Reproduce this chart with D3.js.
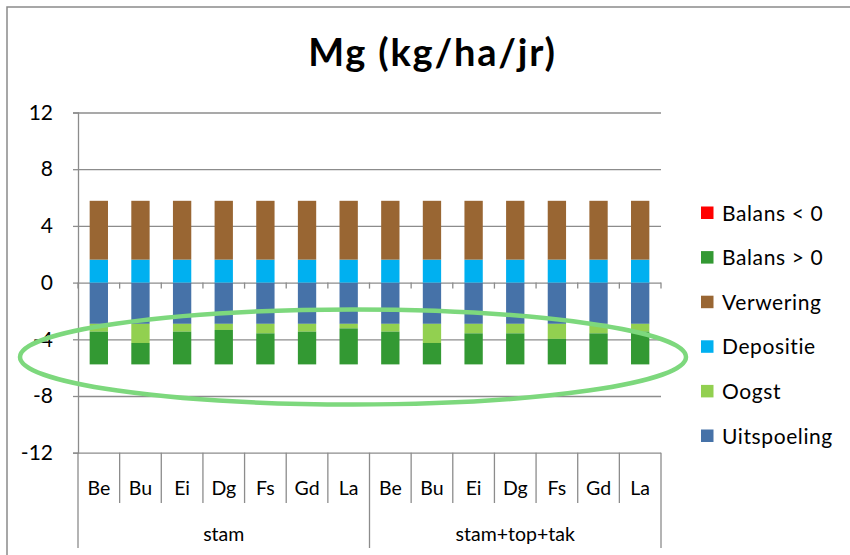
<!DOCTYPE html>
<html><head><meta charset="utf-8">
<script src="https://cdn.jsdelivr.net/npm/d3@7"></script>
<style>
html,body{margin:0;padding:0;background:#fff;}
text{font-family:Lato,"Open Sans",sans-serif;fill:#000;}
</style></head>
<body><svg id="c" width="850" height="555"></svg>
<script>
// ---- data ----
const species = ["Be","Bu","Ei","Dg","Fs","Gd","La"];
const groups = ["stam","stam+top+tak"];
const yTicks = [-12,-8,-4,0,4,8,12];
const seriesNames = ["Uitspoeling","Oogst","Depositie","Verwering","Balans > 0","Balans < 0"];
const seriesColors = ["#4672a8","#92d050","#00b0f0","#996633","#339933","#ff0000"];
const uitspoeling = [-2.91,-2.91,-2.91,-2.91,-2.91,-2.91,-2.91, -2.91,-2.91,-2.91,-2.91,-2.91,-2.91,-2.91];
const oogst       = [-0.55,-1.35,-0.55,-0.43,-0.67,-0.55,-0.32, -0.55,-1.35,-0.67,-0.67,-1.06,-0.67,-0.55];
const depositie   = [1.62,1.62,1.62,1.62,1.62,1.62,1.62, 1.62,1.62,1.62,1.62,1.62,1.62,1.62];
const verwering   = [4.15,4.15,4.15,4.15,4.15,4.15,4.15, 4.15,4.15,4.15,4.15,4.15,4.15,4.15];
const balansPos   = [-2.31,-1.51,-2.31,-2.43,-2.19,-2.31,-2.54, -2.31,-1.51,-2.19,-2.19,-1.80,-2.19,-2.31];
const balansNeg   = [0,0,0,0,0,0,0, 0,0,0,0,0,0,0];
const title = "Mg (kg/ha/jr)";

// ---- build table ----
const seriesData = [uitspoeling, oogst, depositie, verwering, balansPos, balansNeg];
const cats = [];
groups.forEach(g => species.forEach(s => cats.push({group:g, sp:s})));
const rows = cats.map((c,i) => {
  const r = {id:i, group:c.group, sp:c.sp};
  seriesNames.forEach((n,k) => r[n] = seriesData[k][i]);
  return r;
});
const stacked = d3.stack().keys(seriesNames).offset(d3.stackOffsetDiverging)(rows);

const svg = d3.select("#c");
const L = 78, R = 661, T = 112.5, B = 452.7;
const x = d3.scaleBand().domain(rows.map(r=>r.id)).range([L,R]).padding(0);
const y = d3.scaleLinear().domain([-12,12]).range([B,T]);
const grid = "#8c8c8c";

// chart border
svg.append("rect").attr("x",7).attr("y",7).attr("width",900).attr("height",600)
  .attr("fill","none").attr("stroke","#8a8a8a").attr("stroke-width",1.5);

// gridlines + y axis
const yAxis = d3.axisLeft(y).tickValues(yTicks).tickSize(5).tickPadding(20).tickFormat(d=>String(d));
const gy = svg.append("g").attr("transform",`translate(${L},0)`).call(yAxis);
gy.select(".domain").attr("stroke",grid).attr("stroke-width",1.3);
gy.selectAll(".tick line").attr("stroke",grid).attr("stroke-width",1.3);
gy.selectAll(".tick text").attr("font-size",21).attr("font-family","Lato").attr("fill","#000");
gy.selectAll(".tick").append("line").attr("x1",0).attr("x2",R-L).attr("stroke",grid).attr("stroke-width",1.3);

// bars
const bw = x.bandwidth()*0.44;
svg.append("g").selectAll("g").data(stacked).join("g")
  .attr("fill",(d,i)=>seriesColors[i])
  .selectAll("rect").data(d=>d).join("rect")
  .attr("x",d=>x(d.data.id)+(x.bandwidth()-bw)/2)
  .attr("width",bw)
  .attr("y",d=>y(Math.max(d[0],d[1])))
  .attr("height",d=>Math.abs(y(d[0])-y(d[1])));

// zero axis ticks (category boundaries)
const bounds = d3.range(rows.length+1).map(k => k<rows.length ? x(k) : R);
svg.append("g").selectAll("line").data(bounds).join("line")
  .attr("x1",d=>d).attr("x2",d=>d).attr("y1",y(0)).attr("y2",y(0)+6)
  .attr("stroke",grid).attr("stroke-width",1.3);

// bottom multi-level category labels
svg.append("g").selectAll("line").data(bounds).join("line")
  .attr("x1",d=>d).attr("x2",d=>d).attr("y1",B)
  .attr("y2",(d,k)=> (k%species.length===0) ? 548 : 503)
  .attr("stroke",grid).attr("stroke-width",1.3);
svg.append("g").selectAll("text").data(rows).join("text")
  .attr("x",d=>x(d.id)+x.bandwidth()/2).attr("y",495)
  .attr("text-anchor","middle").attr("font-size",19.5).text(d=>d.sp);
svg.append("g").selectAll("text").data(groups).join("text")
  .attr("x",(g,i)=> (x(i*species.length) + (i===groups.length-1 ? R : x((i+1)*species.length)))/2)
  .attr("y",541).attr("text-anchor","middle").attr("font-size",19.5).text(g=>g);

// title
svg.append("text").attr("x",432.5).attr("y",66).attr("text-anchor","middle")
  .attr("font-size",38).attr("font-weight","bold").attr("letter-spacing",1.8).text(title);

// legend (reversed order)
const legendOrder = seriesNames.map((n,i)=>({n, c:seriesColors[i]})).reverse();
const lg = svg.append("g").selectAll("g").data(legendOrder).join("g")
  .attr("transform",(d,i)=>`translate(701,${213 + i*44.6})`);
lg.append("rect").attr("x",0).attr("y",-6.5).attr("width",12.5).attr("height",12.5).attr("fill",d=>d.c);
lg.append("text").attr("x",21).attr("y",7.5).attr("font-size",21).attr("letter-spacing",0.6).text(d=>d.n);

// highlight ellipse
svg.append("ellipse").attr("cx",353).attr("cy",357).attr("rx",333).attr("ry",47.5)
  .attr("fill","none").attr("stroke","#7dd87d").attr("stroke-width",4.5);
</script></body></html>
